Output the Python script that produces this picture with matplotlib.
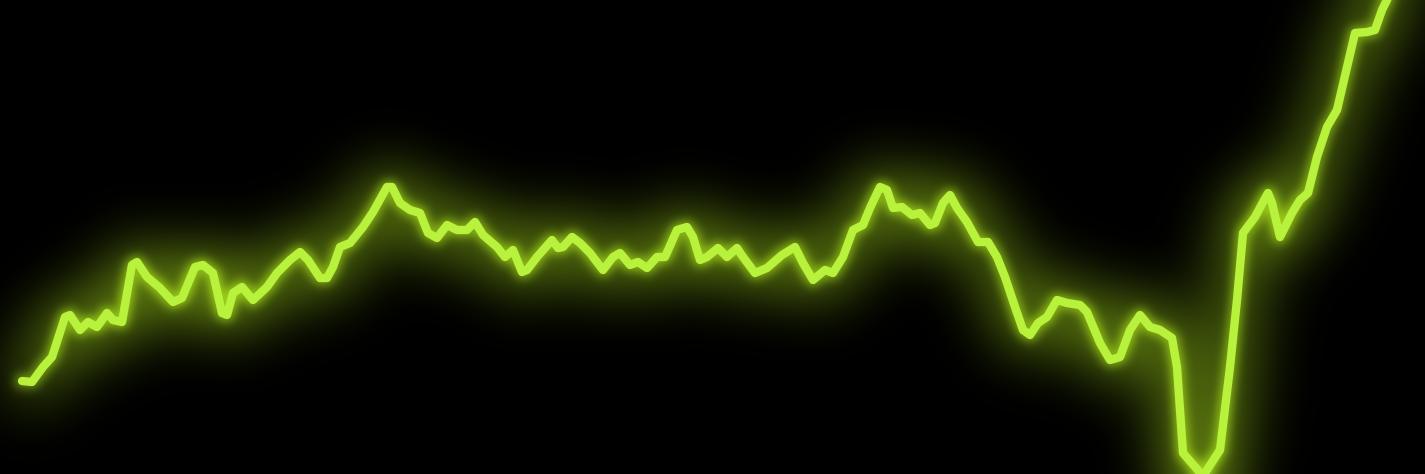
"""Glowing lime line on black, no axes."""

import matplotlib

matplotlib.use("Agg")
import matplotlib.pyplot as plt
import numpy as np

# x position (px across the frame) and level (px above the bottom edge)
xs = [22, 32, 43, 52, 65, 70, 80, 88, 97, 107, 113, 122, 132, 137, 147, 160, 173, 182,
      195, 203, 213, 222, 227, 233, 242, 253, 267, 277, 290, 300, 308, 320, 327, 333,
      340, 350, 363, 373, 387, 392, 400, 410, 420, 428, 437, 447, 457, 467, 475, 483,
      497, 505, 513, 522, 527, 537, 552, 558, 563, 572, 580, 590, 603, 613, 620, 630,
      638, 647, 657, 665, 677, 687, 693, 700, 707, 718, 727, 737, 743, 755, 767, 782,
      795, 803, 813, 825, 833, 843, 853, 863, 870, 880, 887, 893, 902, 912, 920, 930,
      935, 943, 950, 957, 967, 978, 988, 997, 1005, 1015, 1023, 1030, 1038, 1047, 1057,
      1067, 1080, 1087, 1100, 1110, 1120, 1130, 1140, 1150, 1160, 1172, 1177, 1183,
      1203, 1220, 1230, 1237, 1243, 1255, 1268, 1272, 1280, 1292, 1300, 1308, 1317,
      1327, 1337, 1347, 1355, 1367, 1375, 1382, 1393]
levels = [93, 92, 107, 117, 157, 159, 144, 152, 147, 161, 154, 152, 209, 212, 197, 186,
          172, 176, 207, 209, 201, 161, 159, 181, 187, 174, 187, 201, 214, 222, 214, 196,
          196, 207, 227, 231, 247, 262, 287, 287, 271, 264, 261, 241, 236, 249, 244, 244,
          252, 239, 227, 217, 224, 202, 204, 217, 234, 226, 227, 237, 231, 221, 204, 217,
          221, 209, 212, 206, 217, 217, 244, 247, 237, 214, 217, 226, 217, 226, 217, 201,
          206, 219, 227, 211, 194, 204, 201, 217, 244, 249, 266, 287, 284, 266, 267, 259,
          261, 249, 251, 271, 279, 266, 252, 232, 232, 217, 197, 167, 144, 139, 151, 157,
          174, 171, 169, 162, 131, 114, 117, 144, 159, 147, 144, 136, 107, 21, -2, 24,
          107, 174, 241, 257, 281, 271, 237, 261, 274, 281, 317, 347, 364, 407, 441, 442,
          444, 464, 486]

W, H = 1425, 474
LIME = "#b8f23c"
HAZE_WIDE = np.array([0.19, 0.25, 0.03])   # broad olive haze
HAZE_NEAR = np.array([0.30, 0.40, 0.05])   # tight halo hugging the line


def line_mask(width):
    """Render the line alone (white on black) and return it as a 0..1 array."""
    f = plt.figure(figsize=(W / 100, H / 100), dpi=100, facecolor="black")
    a = f.add_axes([0, 0, 1, 1])
    a.set_facecolor("black")
    a.plot(xs, levels, color="white", lw=width, solid_joinstyle="round")
    a.set_xlim(0, W)
    a.set_ylim(0, H)
    a.axis("off")
    f.canvas.draw()
    img = np.asarray(f.canvas.buffer_rgba())[:, :, 0].astype(float) / 255
    plt.close(f)
    return img


def blur(img, sigma):
    r = int(sigma * 3)
    k = np.exp(-0.5 * (np.arange(-r, r + 1) / sigma) ** 2)
    k /= k.sum()
    pad = np.pad(img, r, mode="edge")
    pad = np.apply_along_axis(lambda v: np.convolve(v, k, mode="same"), 1, pad)
    pad = np.apply_along_axis(lambda v: np.convolve(v, k, mode="same"), 0, pad)
    return pad[r:-r, r:-r]


mask = line_mask(10)
line_px = 10 * 100 / 72
wide = blur(mask, 32) / (line_px / (np.sqrt(2 * np.pi) * 32))
near = blur(mask, 5)
bg = wide[:, :, None] * HAZE_WIDE + near[:, :, None] * HAZE_NEAR
bg = np.clip(bg, 0, 1)

fig = plt.figure(figsize=(W / 100, H / 100), dpi=100, facecolor="black")
ax = fig.add_axes([0, 0, 1, 1])
ax.imshow(bg, extent=(0, W, 0, H), origin="upper", aspect="auto", zorder=0)
ax.plot(xs, levels, color=LIME, lw=6, solid_capstyle="round",
        solid_joinstyle="round", zorder=2)
ax.set_xlim(0, W)
ax.set_ylim(0, H)
ax.axis("off")

fig.savefig("out.png", dpi=100, facecolor="black")
